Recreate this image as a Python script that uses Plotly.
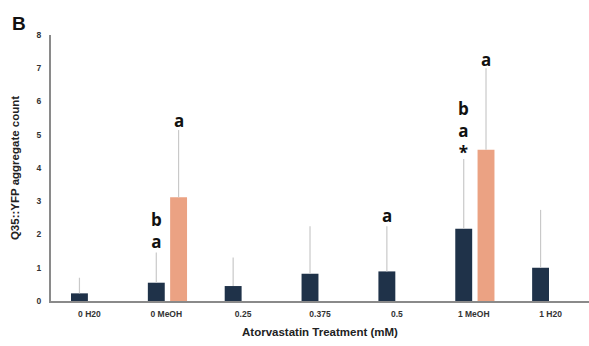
import plotly.graph_objects as go

categories = ["0 H20", "0 MeOH", "0.25", "0.375", "0.5", "1 MeOH", "1 H20"]
dark_values = [0.23, 0.55, 0.45, 0.82, 0.89, 2.17, 1.00]
dark_err = [0.47, 0.91, 0.86, 1.43, 1.36, 2.10, 1.74]
orange_cats = ["0 MeOH", "1 MeOH"]
orange_values = [3.12, 4.55]
orange_err = [2.02, 2.45]

# significance labels (stacked letters above a bar): category index, series, y centre, text
ann_cat = [1, 1, 4, 5, 5]
ann_series = ["dark", "orange", "dark", "dark", "orange"]
ann_y = [2.12, 5.44, 2.56, 5.12, 7.25]
ann_text = ["b<br>a", "a", "a", "b<br>a<br>*", "a"]

W = 0.22
OFF_DARK = -0.24
OFF_OR = 0.05
DARK = "#1f3249"
ORANGE = "#eba283"
ERR = "#c9c9c9"

fig = go.Figure()
fig.add_trace(go.Bar(
    x=categories, y=dark_values, width=W, offset=OFF_DARK,
    marker=dict(color=DARK, line=dict(width=0)),
    error_y=dict(type="data", array=dark_err, arrayminus=[0]*len(dark_err),
                 symmetric=False, color=ERR, thickness=1.2, width=0),
    showlegend=False))
fig.add_trace(go.Bar(
    x=orange_cats, y=orange_values, width=W, offset=OFF_OR,
    marker=dict(color=ORANGE, line=dict(width=0)),
    error_y=dict(type="data", array=orange_err, arrayminus=[0]*len(orange_err),
                 symmetric=False, color=ERR, thickness=1.2, width=0),
    showlegend=False))

for c, s, y, t in zip(ann_cat, ann_series, ann_y, ann_text):
    off = OFF_DARK if s == "dark" else OFF_OR
    fig.add_annotation(x=c + off + W / 2, y=y, text=t, showarrow=False,
                       xref="x", yref="y", xanchor="center", yanchor="middle",
                       align="center",
                       font=dict(family="Open Sans", size=17, color="#111111",
                                 weight="bold"))

fig.add_annotation(x=-41 / 538, y=1 + 24 / 266, xref="paper", yref="paper", text="B",
                   showarrow=False, xanchor="left", yanchor="top",
                   font=dict(family="Liberation Sans", size=19, color="#111111", weight="bold"))

fig.update_layout(
    width=589, height=346,
    margin=dict(l=51, r=0, t=35, b=45),
    paper_bgcolor="white", plot_bgcolor="white",
    barmode="overlay",
    xaxis=dict(type="category", categoryorder="array", categoryarray=categories,
               range=[-0.5, 6.5], showline=True, linecolor="#8a8a8a", linewidth=2,
               ticks="", showgrid=False, ticklabelstandoff=4,
               tickfont=dict(family="Liberation Sans", size=8.5, color="#333333", weight="bold"),
               title=dict(text="Atorvastatin Treatment (mM)", standoff=10,
                          font=dict(family="Liberation Sans", size=11.5, color="#222222",
                                    weight="bold"))),
    yaxis=dict(range=[0, 8], dtick=1, showline=True, linecolor="#8a8a8a", linewidth=2,
               ticks="", showgrid=False, zeroline=False, ticklabelstandoff=6,
               tickfont=dict(family="Liberation Sans", size=8.5, color="#333333", weight="bold"),
               title=dict(text="Q35::YFP aggregate count", standoff=15,
                          font=dict(family="Liberation Sans", size=11.5, color="#222222",
                                    weight="bold"))),
)

fig.write_html("out.html")
